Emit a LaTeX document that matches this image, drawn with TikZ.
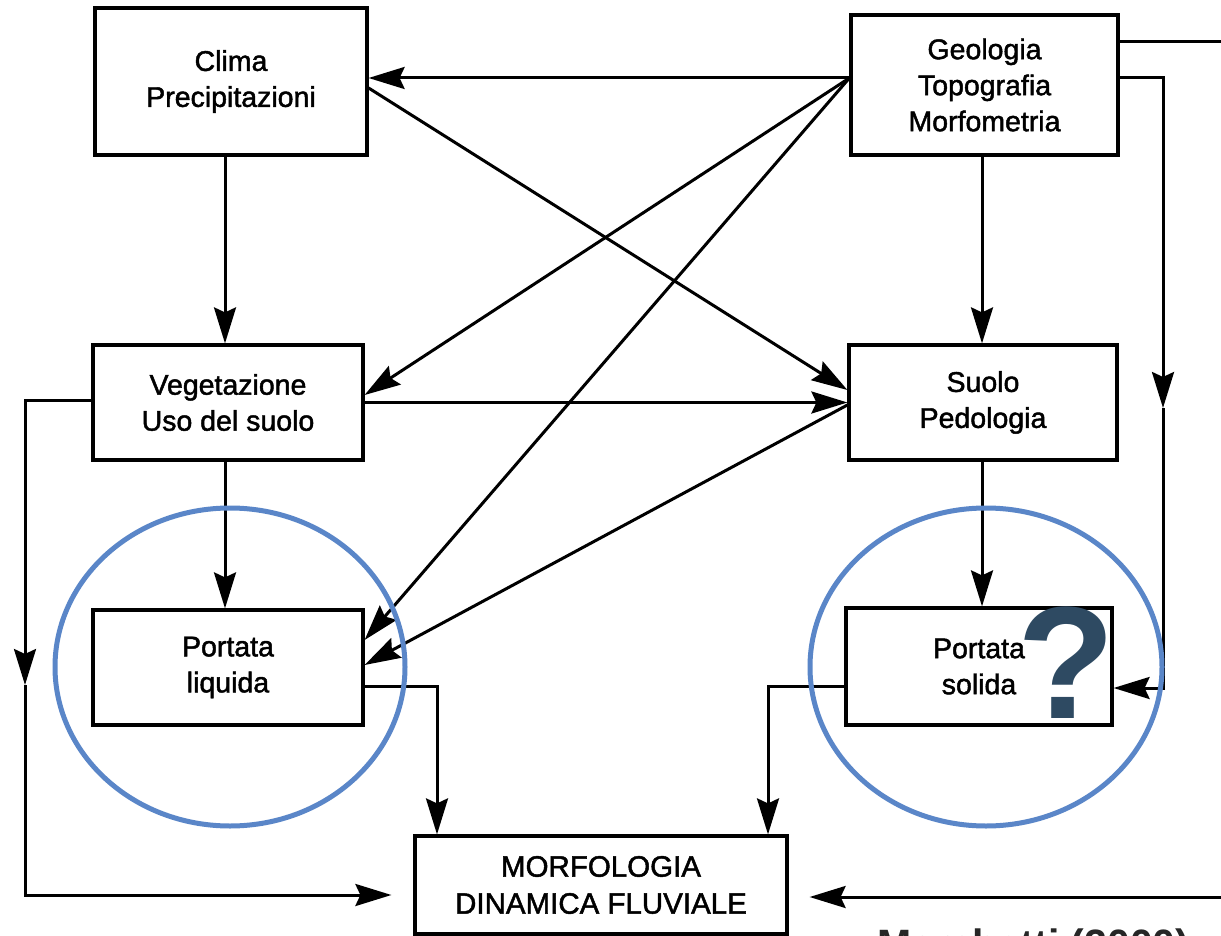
\documentclass[tikz,border=0pt]{standalone}
\usepackage{fontspec}
\setmainfont{Liberation Sans}
\newfontfamily\scanfont{Liberation Sans}[FakeBold=1.6]
\usetikzlibrary{arrows.meta,calc}
\definecolor{circblue}{HTML}{5A86C8}
\definecolor{qcol}{HTML}{2E4A62}
\tikzset{
  box/.style={draw, line width=3.2pt, rectangle, inner sep=0pt, align=center,
    font=\scanfont\fontsize{28.5}{36}\selectfont},
  conn/.style={line width=3pt},
  arr/.style={conn, -{Stealth[length=36pt,width=22pt,inset=5pt]}},
  ring/.style={draw=circblue, line width=5pt},
}
\begin{document}
\begin{tikzpicture}[x=1pt,y=-1pt]
\useasboundingbox (0,0) rectangle (1221,936);
\fill[white] (0,0) rectangle (1221,936);
\clip (0,0) rectangle (1221,936);

% boxes
\node[box, minimum width=272pt, minimum height=147pt] (clima) at (231,81.5) {Clima\\Precipitazioni};
\node[box, minimum width=267pt, minimum height=140pt] (geo) at (984.5,85) {Geologia\\Topografia\\Morfometria};
\node[box, minimum width=270pt, minimum height=115pt] (veg) at (228,402.5) {Vegetazione\\Uso del suolo};
\node[box, minimum width=268pt, minimum height=115pt] (suolo) at (983,402.5) {Suolo\\Pedologia};
\node[box, minimum width=270pt, minimum height=115pt] (pliq) at (228,667.5) {Portata\\liquida};
\node[box, minimum width=266pt, minimum height=117pt] (psol) at (979,666.5) {Portata\\solida};
\node[box, minimum width=372pt, minimum height=98pt, font=\scanfont\fontsize{29.5}{37}\selectfont] (morf) at (601,885) {MORFOLOGIA\\DINAMICA FLUVIALE};

% helper coordinates
\coordinate (G) at (geo.west |- 0,78);
\coordinate (Lc) at (25,400);
\coordinate (Lm) at (25,685);
\coordinate (Lb) at (25,895);
\coordinate (Pl) at (437,686);
\coordinate (Ps) at (768,686);
\coordinate (Rt) at (1221,42);
\coordinate (Rc) at (1163,78);
\coordinate (Rm) at (1163,408);
\coordinate (Rb) at (1163,688);
\coordinate (Br) at (1221,897);

% connectors from Geologia
\draw[arr] (G) -- (clima.east |- 0,78);
\draw[arr] (G) -- (veg.east |- 0,395);
\draw[arr] (G) -- (pliq.east |- 0,640);
\draw[arr] (clima.east |- 0,88) -- (suolo.west |- 0,390);
\draw[arr] (veg.east) -- (suolo.west);
\draw[arr] (suolo.west |- 0,405) -- (pliq.east |- 0,665);

% vertical connectors
\draw[arr] (clima.south -| 225,0) -- (veg.north -| 225,0);
\draw[arr] (geo.south -| 982,0) -- (suolo.north -| 982,0);
\draw[arr] (veg.south -| 225,0) -- (pliq.north -| 225,0);
\draw[arr] (suolo.south -| 982,0) -- (psol.north -| 982,0);

% left loop
\draw[arr] (veg.west |- Lc) -- (Lc) -- (Lm);
\draw[arr, shorten >=22pt] (Lm) -- (Lb) -- (morf.west |- Lb);

% into Morfologia
\draw[arr] (pliq.east |- Pl) -- (Pl) -- (morf.north -| Pl);
\draw[arr] (psol.west |- Ps) -- (Ps) -- (morf.north -| Ps);

% right side
\draw[conn] (geo.east |- Rt) -- (Rt);
\draw[arr] (geo.east |- Rc) -- (Rc) -- (Rm);
\draw[arr] (Rm) -- (Rb) -- (psol.east |- Rb);
\draw[arr, shorten >=21pt] (Br) -- (morf.east |- Br);

% highlight rings
\draw[ring] (230,667) ellipse [x radius=175, y radius=159];
\draw[ring] (986,667) ellipse [x radius=176, y radius=159];

% question mark
\node[font=\fontsize{160}{160}\selectfont\bfseries, text=qcol, inner sep=0pt] (q) at (1066,663) {?};

% partially visible source
\node[anchor=base west, font=\fontsize{41}{41}\selectfont\bfseries, text=black!85, inner sep=0pt] (src) at (877,958) {Marchetti (2000)};
\end{tikzpicture}
\end{document}
